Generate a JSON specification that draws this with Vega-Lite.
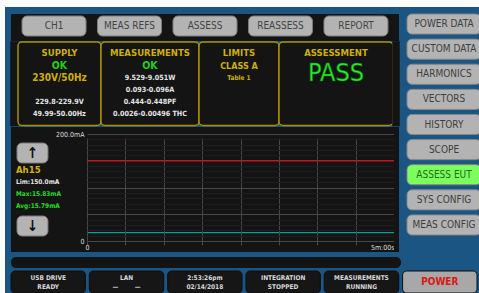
{
  "$schema": "https://vega.github.io/schema/vega-lite/v6.json",
  "background": "#1b5583",
  "padding": {"left": 0, "top": 0, "right": 1, "bottom": 3},
  "config": {
    "view": {"stroke": null},
    "font": "DejaVu Sans Condensed, Liberation Sans Narrow, DejaVu Sans, sans-serif"
  },
  "spacing": 0,
  "resolve": {"scale": {"color": "independent", "fill": "independent"}},
  "hconcat": [
    {"width": 5, "height": 293, "view": {"fill": "#ffffff"}, "data": {"values": []}, "mark": "rect", "encoding": {}},
    {
      "spacing": 6,
      "resolve": {"scale": {"color": "independent", "fill": "independent"}},
      "vconcat": [
        {"width": 474, "height": 7, "view": {"fill": "#ffffff"}, "data": {"values": []}, "mark": "rect", "encoding": {}},
        {
          "spacing": 0,
          "resolve": {"scale": {"color": "independent", "fill": "independent"}},
          "hconcat": [
            {"width": 5, "height": 10, "data": {"values": []}, "mark": "rect", "encoding": {}},
            {
              "spacing": 5,
              "resolve": {"scale": {"color": "independent", "fill": "independent"}},
              "vconcat": [
                {
                  "spacing": 6,
                  "resolve": {"scale": {"color": "independent", "fill": "independent"}},
                  "hconcat": [
                    {
                      "spacing": 0,
                      "resolve": {"scale": {"color": "independent", "fill": "independent"}},
                      "vconcat": [
                        {
                          "width": 388, "height": 27,
                          "view": {"fill": "#141414"},
                          "data": {"values": [
                            {"tab": "CH1"}, {"tab": "MEAS REFS"}, {"tab": "ASSESS"}, {"tab": "REASSESS"}, {"tab": "REPORT"}
                          ]},
                          "encoding": {
                            "x": {"field": "tab", "type": "nominal", "sort": null, "axis": null, "scale": {"paddingInner": 0.152, "paddingOuter": 0.146}},
                            "y": {"datum": "tabs", "type": "nominal", "axis": null, "scale": {"paddingInner": 0, "paddingOuter": 0.175, "align": 0.286}}
                          },
                          "layer": [
                            {"mark": {"type": "bar", "fill": "#b3b3b3", "stroke": "#7c7c7c", "strokeWidth": 1, "cornerRadius": 5}},
                            {"mark": {"type": "text", "color": "#444444", "fontSize": 10}, "encoding": {"text": {"field": "tab"}}}
                          ]
                        },
                        {
                          "bounds": "flush",
                          "spacing": 0,
                          "resolve": {"scale": {"color": "independent", "fill": "independent"}},
                          "hconcat": [
                            {"width": 7, "height": 83.5, "view": {"fill": "#141414", "stroke": "#141414", "strokeWidth": 1.5}, "data": {"values": []}, "mark": "rect", "encoding": {}},
                            {
                              "width": 83, "height": 83.5,
                              "view": {"fill": "#141414", "stroke": "#a88f00", "strokeWidth": 1.5, "cornerRadius": 4},
                              "data": {"values": [
                                {"line": 1, "text": "SUPPLY", "kind": "title"},
                                {"line": 2, "text": "OK", "kind": "ok"},
                                {"line": 3, "text": "230V/50Hz", "kind": "value"},
                                {"line": 5, "text": "229.8-229.9V", "kind": "detail"},
                                {"line": 6, "text": "49.99-50.00Hz", "kind": "detail"}
                              ]},
                              "encoding": {
                                "y": {"field": "line", "type": "ordinal", "axis": null, "scale": {"type": "point", "domain": [1, 2, 3, 4, 5, 6], "padding": 0.95}},
                                "text": {"field": "text"}
                              },
                              "layer": [
                                {"transform": [{"filter": "datum.kind === 'title' || datum.kind === 'value' || datum.kind === 'class'"}], "mark": {"type": "text", "fontWeight": "bold", "color": "#cdb000"}, "encoding": {"size": {"condition": [{"test": "datum.kind === 'value'", "value": 10}, {"test": "datum.kind === 'class'", "value": 9}], "value": 9.5}}},
                                {"transform": [{"filter": "datum.kind === 'ok'"}], "mark": {"type": "text", "fontWeight": "bold", "fontSize": 10.5, "color": "#1fcf1f"}},
                                {"transform": [{"filter": "datum.kind === 'detail'"}], "mark": {"type": "text", "fontWeight": "bold", "fontSize": 7.2, "color": "#e4e4e4"}},
                                {"transform": [{"filter": "datum.kind === 'note'"}], "mark": {"type": "text", "fontWeight": "bold", "fontSize": 6.5, "color": "#cdb000"}}
                              ]
                            },
                            {
                              "width": 98, "height": 83.5,
                              "view": {"fill": "#141414", "stroke": "#a88f00", "strokeWidth": 1.5, "cornerRadius": 4},
                              "data": {"values": [
                                {"line": 1, "text": "MEASUREMENTS", "kind": "title"},
                                {"line": 2, "text": "OK", "kind": "ok"},
                                {"line": 3, "text": "9.529-9.051W", "kind": "detail"},
                                {"line": 4, "text": "0.093-0.096A", "kind": "detail"},
                                {"line": 5, "text": "0.444-0.448PF", "kind": "detail"},
                                {"line": 6, "text": "0.0026-0.00496 THC", "kind": "detail"}
                              ]},
                              "encoding": {
                                "y": {"field": "line", "type": "ordinal", "axis": null, "scale": {"type": "point", "domain": [1, 2, 3, 4, 5, 6], "padding": 0.95}},
                                "text": {"field": "text"}
                              },
                              "layer": [
                                {"transform": [{"filter": "datum.kind === 'title' || datum.kind === 'value' || datum.kind === 'class'"}], "mark": {"type": "text", "fontWeight": "bold", "color": "#cdb000"}, "encoding": {"size": {"condition": [{"test": "datum.kind === 'value'", "value": 10}, {"test": "datum.kind === 'class'", "value": 9}], "value": 9.5}}},
                                {"transform": [{"filter": "datum.kind === 'ok'"}], "mark": {"type": "text", "fontWeight": "bold", "fontSize": 10.5, "color": "#1fcf1f"}},
                                {"transform": [{"filter": "datum.kind === 'detail'"}], "mark": {"type": "text", "fontWeight": "bold", "fontSize": 7.2, "color": "#e4e4e4"}},
                                {"transform": [{"filter": "datum.kind === 'note'"}], "mark": {"type": "text", "fontWeight": "bold", "fontSize": 6.5, "color": "#cdb000"}}
                              ]
                            },
                            {
                              "width": 80, "height": 83.5,
                              "view": {"fill": "#141414", "stroke": "#a88f00", "strokeWidth": 1.5, "cornerRadius": 4},
                              "data": {"values": [
                                {"line": 1, "text": "LIMITS", "kind": "title"},
                                {"line": 2, "text": "CLASS A", "kind": "class"},
                                {"line": 3, "text": "Table 1", "kind": "note"}
                              ]},
                              "encoding": {
                                "y": {"field": "line", "type": "ordinal", "axis": null, "scale": {"type": "point", "domain": [1, 2, 3, 4, 5, 6], "padding": 0.95}},
                                "text": {"field": "text"}
                              },
                              "layer": [
                                {"transform": [{"filter": "datum.kind === 'title' || datum.kind === 'value' || datum.kind === 'class'"}], "mark": {"type": "text", "fontWeight": "bold", "color": "#cdb000"}, "encoding": {"size": {"condition": [{"test": "datum.kind === 'value'", "value": 10}, {"test": "datum.kind === 'class'", "value": 9}], "value": 9.5}}},
                                {"transform": [{"filter": "datum.kind === 'ok'"}], "mark": {"type": "text", "fontWeight": "bold", "fontSize": 10.5, "color": "#1fcf1f"}},
                                {"transform": [{"filter": "datum.kind === 'detail'"}], "mark": {"type": "text", "fontWeight": "bold", "fontSize": 7.2, "color": "#e4e4e4"}},
                                {"transform": [{"filter": "datum.kind === 'note'"}], "mark": {"type": "text", "fontWeight": "bold", "fontSize": 6.5, "color": "#cdb000"}}
                              ]
                            },
                            {
                              "width": 114, "height": 83.5,
                              "view": {"fill": "#141414", "stroke": "#a88f00", "strokeWidth": 1.5, "cornerRadius": 4},
                              "data": {"values": [
                                {"line": 1, "text": "ASSESSMENT", "kind": "title"},
                                {"line": 2, "text": "PASS", "kind": "verdict"}
                              ]},
                              "encoding": {
                                "y": {"field": "line", "type": "ordinal", "axis": null, "scale": {"type": "point", "domain": [1, 2, 3, 4, 5, 6], "padding": 0.95}},
                                "text": {"field": "text"}
                              },
                              "layer": [
                                {"transform": [{"filter": "datum.kind === 'title'"}], "mark": {"type": "text", "fontWeight": "bold", "fontSize": 9.5, "color": "#cdb000"}},
                                {"transform": [{"filter": "datum.kind === 'verdict'"}], "mark": {"type": "text", "fontSize": 25, "color": "#2df02d", "stroke": "#0a7a0a", "strokeWidth": 0.6, "dy": 7}}
                              ]
                            },
                            {"width": 6, "height": 83.5, "view": {"fill": "#141414", "stroke": "#141414", "strokeWidth": 1.5}, "data": {"values": []}, "mark": "rect", "encoding": {}}
                          ]
                        },
                        {
                          "bounds": "flush",
                          "spacing": 0,
                          "resolve": {"scale": {"color": "independent", "fill": "independent"}},
                          "hconcat": [
                            {
                              "width": 76, "height": 125,
                              "view": {"fill": "#141414"},
                              "layer": [
                                {
                                  "data": {"values": [{"btn": "up", "glyph": "↑"}, {"btn": "down", "glyph": "↓"}]},
                                  "encoding": {
                                    "y": {"field": "btn", "type": "nominal", "sort": null, "axis": null, "scale": {"paddingInner": 0.726, "paddingOuter": 0.219}},
                                    "x": {"datum": "arrows", "type": "nominal", "axis": null, "scale": {"paddingInner": 0, "paddingOuter": 0.726, "align": 0.133}}
                                  },
                                  "layer": [
                                    {"mark": {"type": "bar", "fill": "#b3b3b3", "stroke": "#7c7c7c", "strokeWidth": 1, "cornerRadius": 5}},
                                    {"mark": {"type": "text", "color": "#111111", "fontSize": 15, "fontWeight": "bold"}, "encoding": {"text": {"field": "glyph"}}}
                                  ]
                                },
                                {
                                  "data": {"values": [
                                    {"item": "Ah15", "text": "Ah15", "kind": "name"},
                                    {"item": "Lim", "text": "Lim:150.0mA", "kind": "limit"},
                                    {"item": "Max", "text": "Max:15.83mA", "kind": "max"},
                                    {"item": "Avg", "text": "Avg:15.79mA", "kind": "avg"}
                                  ]},
                                  "encoding": {
                                    "y": {"field": "item", "type": "nominal", "sort": null, "axis": null, "scale": {"type": "point", "domain": ["Ah15", "Lim", "Max", "Avg"], "range": [43, 79], "padding": 0}},
                                    "text": {"field": "text"}
                                  },
                                  "layer": [
                                    {"transform": [{"filter": "datum.kind === 'name'"}], "mark": {"type": "text", "align": "left", "dx": -33, "fontWeight": "bold", "fontSize": 9.5, "color": "#d4b400"}},
                                    {"transform": [{"filter": "datum.kind !== 'name'"}], "mark": {"type": "text", "align": "left", "dx": -33, "fontWeight": "bold", "fontSize": 6.5}, "encoding": {"color": {"condition": {"test": "datum.kind === 'limit'", "value": "#e6e6e6"}, "value": "#22dd22"}}}
                                  ]
                                }
                              ],
                              "resolve": {"scale": {"y": "independent", "x": "independent"}}
                            },
                            {
                              "width": 307, "height": 125,
                              "view": {"fill": "#141414"},
                              "encoding": {
                                "x": {
                                  "field": "t", "type": "quantitative",
                                  "scale": {"domain": [0, 300], "nice": false, "zero": false},
                                  "axis": {
                                    "title": null, "zindex": 1, "offset": -11,
                                    "values": [0, 37.5, 75, 112.5, 150, 187.5, 225, 262.5, 300],
                                    "grid": true, "gridColor": "#474747", "gridWidth": 1,
                                    "ticks": false, "domain": false,
                                    "labelExpr": "datum.value === 0 ? '0' : (datum.value === 300 ? '5m:00s' : '')",
                                    "labelColor": "#dddddd", "labelFontSize": 7, "labelPadding": 2,
                                    "labelFlush": false, "labelOverlap": false,
                                    "labelAlign": {"condition": {"test": "datum.value === 300", "value": "right"}, "value": "center"}
                                  }
                                },
                                "y": {
                                  "field": "mA", "type": "quantitative",
                                  "scale": {"domain": [0, 200], "nice": false, "range": [114, 7]},
                                  "axis": {
                                    "title": null, "zindex": 1,
                                    "values": [0, 10, 20, 30, 40, 50, 60, 70, 80, 90, 100, 110, 120, 130, 140, 150, 160, 170, 180, 190, 200],
                                    "grid": true,
                                    "gridColor": {"condition": {"test": "datum.value % 50 === 0", "value": "#474747"}, "value": "#1e1e1e"},
                                    "gridOpacity": {"condition": {"test": "datum.value === 150", "value": 0}, "value": 1},
                                    "ticks": false, "domain": false,
                                    "labelExpr": "datum.value === 200 ? '200.0mA' : (datum.value === 0 ? '0' : '')",
                                    "labelColor": "#dddddd", "labelFontSize": 7, "labelPadding": 3,
                                    "labelOverlap": false, "labelFlush": false
                                  }
                                }
                              },
                              "layer": [
                                {
                                  "data": {"values": [{"frame": "plot area"}]},
                                  "mark": {"type": "rect", "fill": "#000000", "stroke": "#6e6e6e", "strokeWidth": 1},
                                  "encoding": {
                                    "x": {"datum": 0, "type": "quantitative"},
                                    "x2": {"datum": 300},
                                    "y": {"datum": 0, "type": "quantitative"},
                                    "y2": {"datum": 200}
                                  }
                                },
                                {
                                  "data": {"values": [
                                    {"t": 0, "mA": 150, "series": "limit"},
                                    {"t": 300, "mA": 150, "series": "limit"},
                                    {"t": 0, "mA": 15.79, "series": "current"},
                                    {"t": 30, "mA": 15.8, "series": "current"},
                                    {"t": 60, "mA": 15.78, "series": "current"},
                                    {"t": 90, "mA": 15.81, "series": "current"},
                                    {"t": 120, "mA": 15.79, "series": "current"},
                                    {"t": 150, "mA": 15.83, "series": "current"},
                                    {"t": 180, "mA": 15.78, "series": "current"},
                                    {"t": 210, "mA": 15.8, "series": "current"},
                                    {"t": 240, "mA": 15.79, "series": "current"},
                                    {"t": 270, "mA": 15.81, "series": "current"},
                                    {"t": 300, "mA": 15.79, "series": "current"}
                                  ]},
                                  "mark": {"type": "line", "strokeWidth": 1.3},
                                  "encoding": {
                                    "color": {"field": "series", "type": "nominal", "legend": null, "scale": {"domain": ["limit", "current"], "range": ["#c4141c", "#109c9c"]}}
                                  }
                                }
                              ]
                            },
                            {"width": 5, "height": 125, "view": {"fill": "#141414"}, "data": {"values": []}, "mark": "rect", "encoding": {}}
                          ]
                        }
                      ]
                    },
                    {
                      "width": 74, "height": 221,
                      "data": {"values": [
                        {"menu": "POWER DATA", "state": "idle"},
                        {"menu": "CUSTOM DATA", "state": "idle"},
                        {"menu": "HARMONICS", "state": "idle"},
                        {"menu": "VECTORS", "state": "idle"},
                        {"menu": "HISTORY", "state": "idle"},
                        {"menu": "SCOPE", "state": "idle"},
                        {"menu": "ASSESS EUT", "state": "active"},
                        {"menu": "SYS CONFIG", "state": "idle"},
                        {"menu": "MEAS CONFIG", "state": "idle"}
                      ]},
                      "encoding": {
                        "y": {"field": "menu", "type": "nominal", "sort": null, "axis": null, "scale": {"paddingInner": 0.2, "paddingOuter": 0}}
                      },
                      "layer": [
                        {
                          "mark": {"type": "bar", "cornerRadius": 5, "stroke": "#858585", "strokeWidth": 1},
                          "encoding": {"fill": {"field": "state", "type": "nominal", "legend": null, "scale": {"domain": ["idle", "active"], "range": ["#b3b3b3", "#7cff5c"]}}}
                        },
                        {
                          "mark": {"type": "text", "fontSize": 10},
                          "encoding": {
                            "text": {"field": "menu"},
                            "color": {"field": "state", "type": "nominal", "legend": null, "scale": {"domain": ["idle", "active"], "range": ["#3e3e3e", "#1d6b1d"]}}
                          }
                        }
                      ],
                      "resolve": {"scale": {"color": "independent", "fill": "independent"}}
                    }
                  ]
                },
                {
                  "spacing": 2,
                  "resolve": {"scale": {"color": "independent", "fill": "independent"}},
                  "vconcat": [
                    {"width": 390, "height": 11, "view": {"fill": "#141414", "cornerRadius": 5}, "data": {"values": []}, "mark": "rect", "encoding": {}},
                    {
                      "width": 466, "height": 22,
                      "data": {"values": [
                        {"box": "usb", "text": ["USB DRIVE", "READY"], "kind": "status"},
                        {"box": "lan", "text": ["LAN", "—\u00a0\u00a0\u00a0\u00a0\u00a0\u00a0\u00a0\u00a0—"], "kind": "status"},
                        {"box": "clock", "text": ["2:53:26pm", "02/14/2018"], "kind": "status"},
                        {"box": "integration", "text": ["INTEGRATION", "STOPPED"], "kind": "status"},
                        {"box": "measurements", "text": ["MEASUREMENTS", "RUNNING"], "kind": "status"},
                        {"box": "power", "text": "POWER", "kind": "power"}
                      ]},
                      "encoding": {
                        "x": {"field": "box", "type": "nominal", "sort": null, "axis": null, "scale": {"paddingInner": 0.05, "paddingOuter": 0}}
                      },
                      "layer": [
                        {
                          "mark": {"type": "bar", "cornerRadius": 4, "stroke": "#0e0e0e", "strokeWidth": 1},
                          "encoding": {"fill": {"field": "kind", "type": "nominal", "legend": null, "scale": {"domain": ["status", "power"], "range": ["#161616", "#a8a8a8"]}}}
                        },
                        {
                          "transform": [{"filter": "datum.kind === 'status'"}],
                          "mark": {"type": "text", "lineHeight": 9, "fontWeight": "bold", "fontSize": 6.5, "color": "#d8d8d8", "dy": -4.5},
                          "encoding": {"text": {"field": "text"}}
                        },
                        {
                          "transform": [{"filter": "datum.kind === 'power'"}],
                          "mark": {"type": "text", "fontWeight": "bold", "fontSize": 10, "color": "#dd1515"},
                          "encoding": {"text": {"field": "text"}}
                        }
                      ]
                    }
                  ]
                }
              ]
            }
          ]
        }
      ]
    }
  ]
}
